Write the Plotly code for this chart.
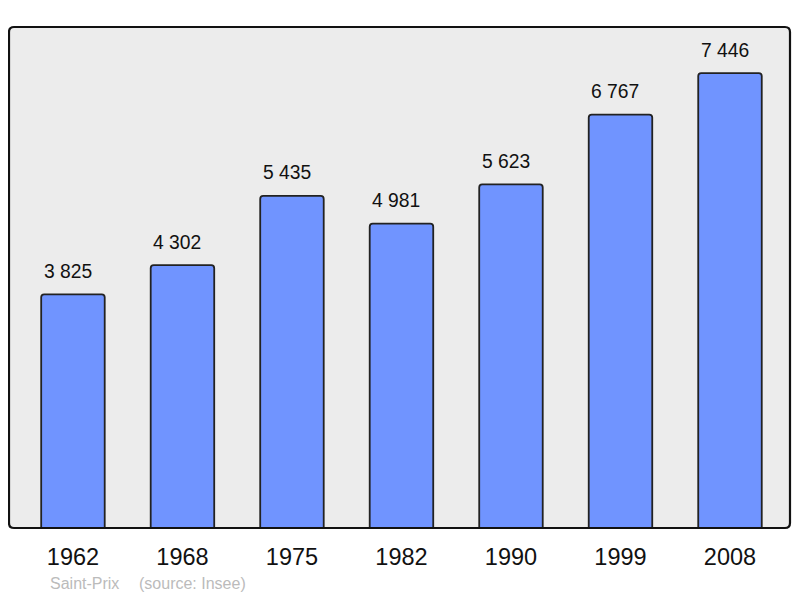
import plotly.graph_objects as go

years = ["1962", "1968", "1975", "1982", "1990", "1999", "2008"]
population = [3825, 4302, 5435, 4981, 5623, 6767, 7446]
value_labels = ["3 825", "4 302", "5 435", "4 981", "5 623", "6 767", "7 446"]
place = "Saint-Prix"
source = "(source: Insee)"

# the page body has an 8px margin; figure is sized so the result fills 800x598
OFF = 8
W, H = 800 - OFF, 598 - OFF
ml, mr, mt, mb = 9 - OFF, 10, 27 - OFF, 70
FONT = "Liberation Sans, Arial, sans-serif"

fig = go.Figure()
fig.add_trace(go.Bar(
    x=years, y=population, width=0.58,
    marker=dict(color="#7094FF", line=dict(color="#222222", width=1.8), cornerradius=3),
    hoverinfo="skip",
))

for i, (v, lab) in enumerate(zip(population, value_labels)):
    fig.add_annotation(x=i, y=v, text=lab, showarrow=False, xshift=-5, yshift=23,
                       yanchor="middle", font=dict(size=19.3, color="#111111", family=FONT))

pw = W - ml - mr
ph = H - mt - mb
rx, ry = 5 / pw, 5 / ph
path = (f"M {rx},0 L {1-rx},0 Q 1,0 1,{ry} L 1,{1-ry} Q 1,1 {1-rx},1 "
        f"L {rx},1 Q 0,1 0,{1-ry} L 0,{ry} Q 0,0 {rx},0 Z")
fig.add_shape(type="path", path=path, xref="paper", yref="paper",
              line=dict(color="#111111", width=2.2), layer="above")

src_y = -(583 - 528) / ph
fig.add_annotation(x=(48 - 9) / pw, y=src_y, xref="paper", yref="paper",
                   text=place, showarrow=False, xanchor="left", yanchor="middle",
                   font=dict(size=16, color="#BBBBBB", family=FONT))
fig.add_annotation(x=(137 - 9) / pw, y=src_y, xref="paper", yref="paper",
                   text=source, showarrow=False, xanchor="left", yanchor="middle",
                   font=dict(size=16, color="#BBBBBB", family=FONT))

fig.update_layout(
    width=W, height=H,
    margin=dict(l=ml, r=mr, t=mt, b=mb),
    paper_bgcolor="white", plot_bgcolor="#ECECEC",
    showlegend=False,
    font=dict(family=FONT, color="#111111"),
    xaxis=dict(type="category", range=[-0.584, 6.548], showgrid=False, zeroline=False,
               showline=False, ticks="outside", ticklen=8, tickcolor="rgba(0,0,0,0)",
               tickfont=dict(size=23.5, color="#111111"), fixedrange=True),
    yaxis=dict(range=[0, 8200], showgrid=False, zeroline=False, showline=False,
               showticklabels=False, fixedrange=True),
)

fig.write_html("out.html")
